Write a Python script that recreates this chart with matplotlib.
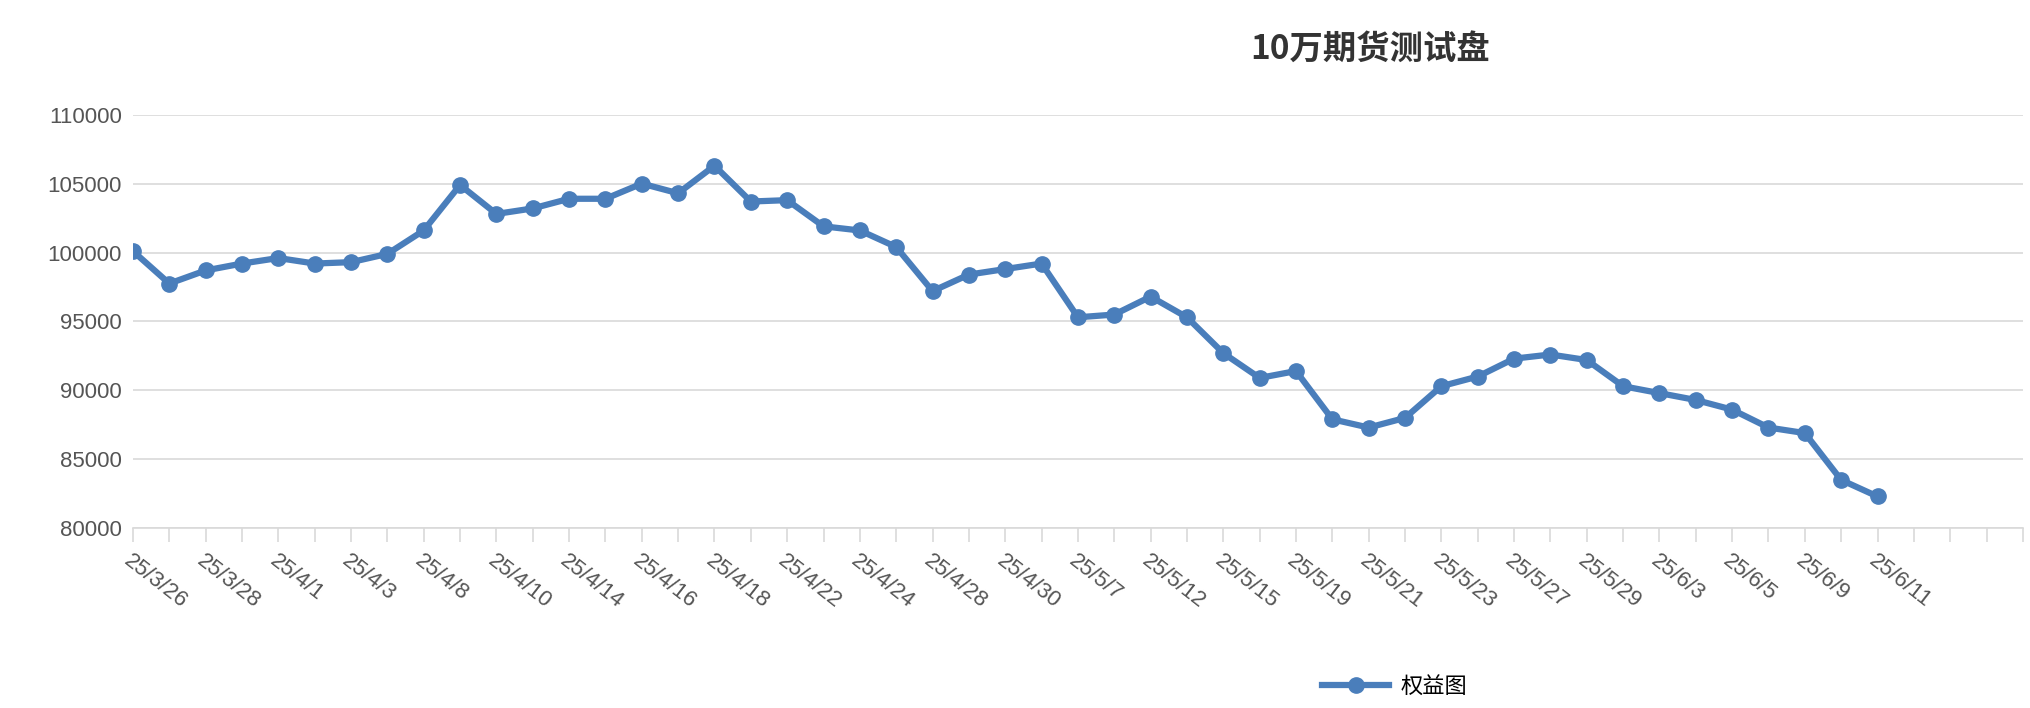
import matplotlib
matplotlib.use("Agg")
import matplotlib.pyplot as plt
from matplotlib.lines import Line2D

plt.rcParams['font.family'] = ['Noto Sans CJK SC', 'DejaVu Sans']

title = "10万期货测试盘"
series_name = "权益图"
date_labels = ["25/3/26","25/3/28","25/4/1","25/4/3","25/4/8","25/4/10","25/4/14","25/4/16",
               "25/4/18","25/4/22","25/4/24","25/4/28","25/4/30","25/5/7","25/5/12","25/5/15",
               "25/5/19","25/5/21","25/5/23","25/5/27","25/5/29","25/6/3","25/6/5","25/6/9","25/6/11"]
values = [100100,97750,98700,99200,99600,99200,99300,99900,101600,104900,102800,103200,103900,
          103900,105000,104300,106300,103700,103800,101900,101600,100400,97200,98400,98800,99200,
          95300,95500,96800,95300,92700,90900,91400,87900,87300,88000,90300,91000,92300,92600,
          92200,90300,89800,89300,88600,87300,86900,83500,82300]
n_categories = 53

fig = plt.figure(figsize=(20.3, 7.08), dpi=100)
ax = fig.add_axes([0.0655, 0.254, 0.931, 0.584])
col = "#4a7ebb"
x = list(range(len(values)))
ax.plot(x, values, color=col, lw=4.5, marker="o", ms=11, solid_joinstyle="round")
ax.set_xlim(0, n_categories - 1)
ax.set_ylim(80000, 110000)
ax.set_yticks(range(80000, 110001, 5000))
ax.yaxis.grid(True, color="#d9d9d9", lw=1.2)
ax.set_axisbelow(True)
ax.set_xticks(range(n_categories))
lbls = [""] * n_categories
for i, l in enumerate(date_labels):
    lbls[2 * i] = l
ax.set_xticklabels(lbls, rotation=-38, ha="left", rotation_mode="anchor", fontsize=16,
                   color="#555555", family=['Liberation Sans', 'DejaVu Sans'])
for t in ax.get_xticklabels():
    t.set_x(t.get_position()[0])
ax.tick_params(axis="x", length=10, color="#d9d9d9", width=1.2, pad=6)
ax.tick_params(axis="y", length=0, labelsize=16, labelcolor="#555555", pad=8)
for t in ax.get_yticklabels():
    t.set_family(['Liberation Sans', 'DejaVu Sans'])
for s in ["top", "right", "left"]:
    ax.spines[s].set_visible(False)
ax.spines["bottom"].set_color("#d9d9d9")
ax.spines["bottom"].set_linewidth(1.2)

fig.text(0.675, 0.93, title, ha="center", va="center", fontsize=24, fontweight="bold", color="#333333")
h = Line2D([], [], color=col, lw=4.5, marker="o", ms=11)
fig.legend([h], [series_name], loc="center", bbox_to_anchor=(0.687, 0.03), frameon=False,
           fontsize=16, handlelength=3, handletextpad=0.5)
fig.savefig("out.png", dpi=100)
